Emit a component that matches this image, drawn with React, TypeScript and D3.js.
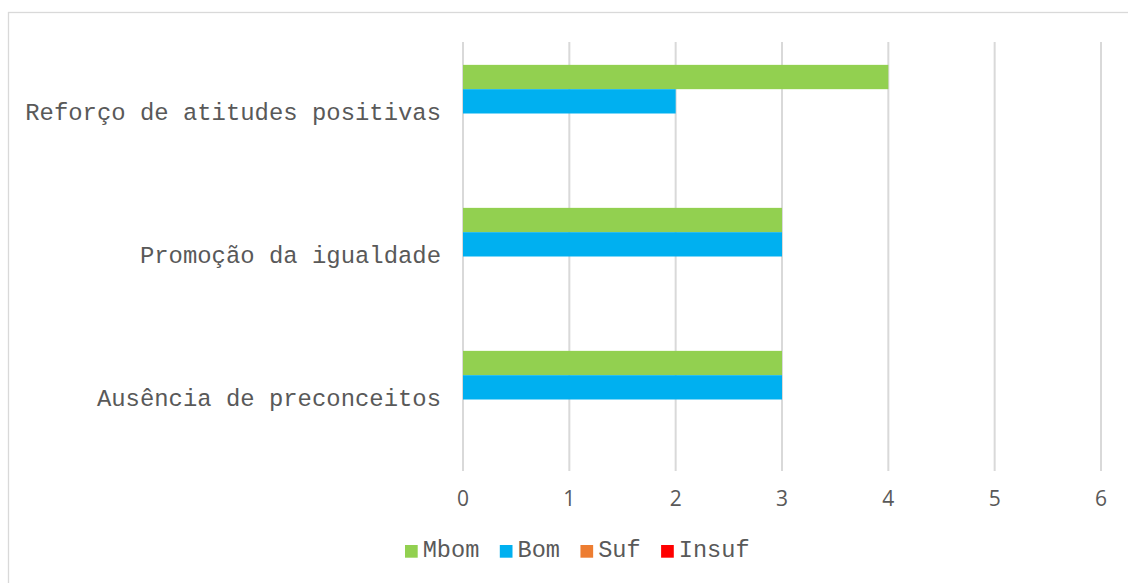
import React from "react";
import * as d3 from "d3";

const categories = ["Reforço de atitudes positivas", "Promoção da igualdade", "Ausência de preconceitos"];
const seriesNames = ["Mbom", "Bom", "Suf", "Insuf"];
const seriesColors = ["#92d050", "#00b0f0", "#ed7d31", "#ff0000"];
const mbom = [4, 3, 3];
const bom = [2, 3, 3];
const suf = [0, 0, 0];
const insuf = [0, 0, 0];
const xTicks = [0, 1, 2, 3, 4, 5, 6];

const seriesValues = [mbom, bom, suf, insuf];

export default function App() {
  const W = 1128, H = 583;
  const x = d3.scaleLinear().domain([0, 6]).range([463, 1101]);
  const y = d3.scaleBand<string>().domain(categories).range([42, 471]).padding(0);
  const inner = d3.scaleBand<string>().domain(seriesNames).range([0, y.step()]).paddingInner(0).paddingOuter(0.94);
  const textColor = "#595959";
  const mono = "'Liberation Mono', 'Courier New', monospace";

  // legend layout
  const charW = 14.15;
  const sq = 12.7;
  let lx = 405;
  const legendItems = seriesNames.map((n, i) => {
    const item = { name: n, color: seriesColors[i], x: lx };
    lx += sq + 5 + n.length * charW + 20.5;
    return item;
  });

  return (
    <svg width={W} height={H} style={{ position: "absolute", left: 0, top: 0, background: "#fff" }}>
      <rect x={8.5} y={12.5} width={1200} height={700} fill="#fff" stroke="#d9d9d9" strokeWidth={1.3} />
      {xTicks.map((t) => (
        <line key={"g" + t} x1={x(t)} x2={x(t)} y1={42} y2={471} stroke="#d9d9d9" strokeWidth={2} />
      ))}
      {categories.map((c, ci) =>
        seriesNames.map((s, si) => {
          const v = seriesValues[si][ci];
          if (!v) return null;
          return (
            <rect
              key={c + s}
              x={x(0)}
              y={(y(c) as number) + (inner(s) as number)}
              width={x(v) - x(0)}
              height={inner.bandwidth()}
              fill={seriesColors[si]}
            />
          );
        })
      )}
      {categories.map((c) => (
        <text
          key={"l" + c}
          x={441}
          y={(y(c) as number) + y.bandwidth() / 2 + 6}
          textAnchor="end"
          fontFamily={mono}
          fontSize={23.9}
          fill={textColor}
        >
          {c}
        </text>
      ))}
      {xTicks.map((t) => (
        <text
          key={"t" + t}
          x={x(t)}
          y={506}
          textAnchor="middle"
          fontFamily="'Open Sans', 'Noto Sans', sans-serif"
          fontSize={21}
          fill={textColor}
        >
          {t}
        </text>
      ))}
      {legendItems.map((it) => (
        <g key={"lg" + it.name}>
          <rect x={it.x} y={545} width={sq} height={sq} fill={it.color} />
          <text x={it.x + sq + 5} y={557} fontFamily={mono} fontSize={23.6} fill={textColor}>
            {it.name}
          </text>
        </g>
      ))}
    </svg>
  );
}
